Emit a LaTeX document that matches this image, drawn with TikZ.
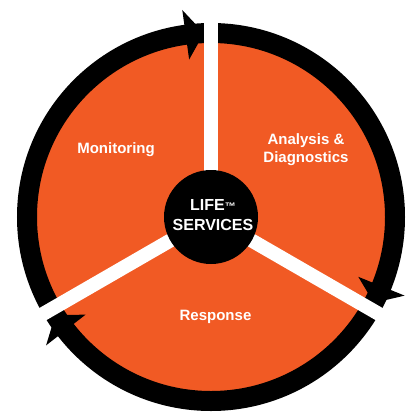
\documentclass[tikz,border=0pt]{standalone}
\usepackage{fontspec}
\setmainfont{Liberation Sans}
\definecolor{lifeorange}{HTML}{F15A24}
\begin{document}
\begin{tikzpicture}[x=1pt,y=1pt,
  seglabel/.style={text=white,font=\bfseries\fontsize{15}{18}\selectfont,align=center,inner sep=0pt},
  centerlabel/.style={text=white,font=\bfseries\fontsize{16}{20}\selectfont,align=center,inner sep=0pt},
  gapbar/.style={white,line width=14pt}]
\useasboundingbox (-211,-196) rectangle (203,217);
% orange disk
\fill[lifeorange] (0,0) circle[radius=175];
% black ring
\fill[black,even odd rule] (0,0) circle[radius=194] (0,0) circle[radius=174];
% arrowheads
\foreach \s in {90,-30,210}{
  \fill[black] ({\s+2.2}:184) -- ({\s+7.9}:209) -- ({\s+7.9}:159) -- cycle;
}
% white separators
\foreach \s in {90,-30,210}{
  \draw[gapbar] (0,0) -- (\s:216);
}
% centre circle
\fill[black] (0,0) circle[radius=47];
\node[centerlabel] (core) at (2,2) {LIFE{\fontsize{11}{11}\selectfont ™}\\SERVICES};
\node[seglabel,anchor=base] (mon) at (-95,64) {Monitoring};
\node[seglabel] (ana) at (95,67) {Analysis \&\\Diagnostics};
\node[seglabel,anchor=base] (resp) at (4.5,-103) {Response};
\end{tikzpicture}
\end{document}
